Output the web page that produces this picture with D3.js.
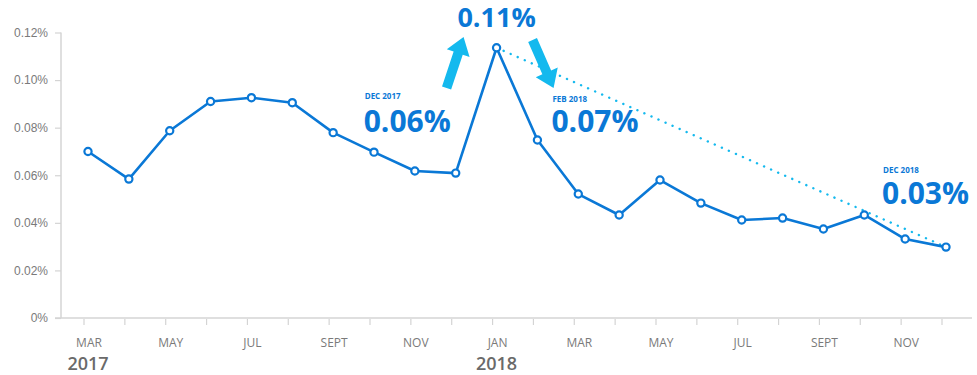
<!DOCTYPE html>
<html>
<head>
<meta charset="utf-8">
<script src="https://cdn.jsdelivr.net/npm/d3@7"></script>
<style>
	body { margin: 0; background: #fff; }
	svg { display: block; font-family: "Open Sans", "Noto Sans", sans-serif; }
</style>
</head>
<body>
<div id="chart"></div>
<script>
const WIDTH = 977;
const HEIGHT = 375;
const BLUE = "#0a78d6";
const CYAN = "#14b9ee";
const GREY = "#7a7a7a";

// Mar 2017 .. Dec 2018
const months = ["MAR17", "APR17", "MAY17", "JUN17", "JUL17", "AUG17", "SEP17", "OCT17", "NOV17", "DEC17",
	"JAN18", "FEB18", "MAR18", "APR18", "MAY18", "JUN18", "JUL18", "AUG18", "SEP18", "OCT18", "NOV18", "DEC18"];
const rates = [0.0700, 0.0584, 0.0787, 0.0910, 0.0926, 0.0905, 0.0779, 0.0697, 0.0618, 0.0609,
	0.1136, 0.0748, 0.0521, 0.0433, 0.0580, 0.0483, 0.0412, 0.0420, 0.0374, 0.0433, 0.0332, 0.0298];
const monthLabels = {MAR17: "MAR", MAY17: "MAY", JUL17: "JUL", SEP17: "SEPT", NOV17: "NOV",
	JAN18: "JAN", MAR18: "MAR", MAY18: "MAY", JUL18: "JUL", SEP18: "SEPT", NOV18: "NOV"};
const yearLabels = {MAR17: "2017", JAN18: "2018"};
const yTicks = [0, 0.02, 0.04, 0.06, 0.08, 0.10, 0.12];

const callouts = [
	{month: "DEC17", small: "DEC 2017", big: "0.06%", dx: -91, ySmall: 99, yBig: 132},
	{month: "FEB18", small: "FEB 2018", big: "0.07%", dx: 15, ySmall: 102, yBig: 132},
	{month: "DEC18", small: "DEC 2018", big: "0.03%", dx: -63, ySmall: 173, yBig: 204}
];

const data = months.map((m, i) => ({month: m, value: rates[i]}));

const x = d3.scalePoint().domain(months).range([88, 946]);
const y = d3.scaleLinear().domain([0, 0.12]).range([318, 32.5]);

const svg = d3.select("#chart").append("svg")
	.attr("width", WIDTH)
	.attr("height", HEIGHT);

// axes
const yAxis = d3.axisLeft(y)
	.tickValues(yTicks)
	.tickSize(6)
	.tickFormat((d) => d === 0 ? "0%" : d3.format(".2f")(d) + "%");
const yG = svg.append("g").attr("transform", "translate(61,0)").call(yAxis);
yG.select(".domain").attr("stroke", "#d4d4d4").attr("stroke-width", 1.5).attr("d", `M0,${y(0.12)}V${y(0)}`);
yG.selectAll(".tick line").attr("stroke", "#d4d4d4").attr("stroke-width", 1.2);
yG.selectAll(".tick text").attr("fill", GREY).attr("font-size", "12px").attr("x", -13);

const xG = svg.append("g").attr("transform", `translate(0,${y(0)})`);
xG.append("line")
	.attr("x1", 55).attr("x2", 972)
	.attr("stroke", "#d4d4d4").attr("stroke-width", 1.5);
xG.selectAll(".xtick").data(months).enter().append("line")
	.attr("class", "xtick")
	.attr("x1", (d) => x(d) - 4).attr("x2", (d) => x(d) - 4)
	.attr("y1", 1).attr("y2", 7)
	.attr("stroke", "#d4d4d4").attr("stroke-width", 1.2);
xG.selectAll(".mlabel").data(months.filter((m) => monthLabels[m])).enter().append("text")
	.attr("class", "mlabel")
	.attr("x", (d) => x(d) + 1)
	.attr("y", 29)
	.attr("text-anchor", "middle")
	.attr("fill", GREY)
	.attr("font-size", "12px")
	.text((d) => monthLabels[d]);
xG.selectAll(".ylabel").data(months.filter((m) => yearLabels[m])).enter().append("text")
	.attr("class", "ylabel")
	.attr("x", (d) => x(d))
	.attr("y", 52)
	.attr("text-anchor", "middle")
	.attr("fill", "#6a6a6a")
	.attr("font-size", "18px")
	.attr("font-weight", 600)
	.text((d) => yearLabels[d]);

// dotted trend from peak to last
const peak = data[months.indexOf("JAN18")];
const last = data[data.length - 1];
svg.append("line")
	.attr("x1", x(peak.month)).attr("y1", y(peak.value))
	.attr("x2", x(last.month)).attr("y2", y(last.value))
	.attr("stroke", CYAN)
	.attr("stroke-width", 2.4)
	.attr("stroke-linecap", "round")
	.attr("stroke-dasharray", "0.1 7.6");

// main line
const line = d3.line().x((d) => x(d.month)).y((d) => y(d.value));
svg.append("path")
	.datum(data)
	.attr("d", line)
	.attr("fill", "none")
	.attr("stroke", BLUE)
	.attr("stroke-width", 2.6)
	.attr("stroke-linejoin", "round");

svg.selectAll(".dot").data(data).enter().append("circle")
	.attr("class", "dot")
	.attr("cx", (d) => x(d.month))
	.attr("cy", (d) => y(d.value))
	.attr("r", 3.6)
	.attr("fill", "#fff")
	.attr("stroke", BLUE)
	.attr("stroke-width", 2.2);

// arrows
function arrow(x1, y1, x2, y2) {
	const len = Math.hypot(x2 - x1, y2 - y1);
	const ang = Math.atan2(y2 - y1, x2 - x1) * 180 / Math.PI;
	const sw = 4.8, hw = 12, hl = 17;
	const p = [[0, -sw], [len - hl, -sw], [len - hl, -hw], [len, 0], [len - hl, hw], [len - hl, sw], [0, sw]];
	svg.append("path")
		.attr("d", "M" + p.join("L") + "Z")
		.attr("fill", CYAN)
		.attr("transform", `translate(${x1},${y1}) rotate(${ang})`);
}
const px = x(peak.month);
arrow(px - 50, 88, px - 33, 37);
arrow(px + 36, 40, px + 57, 88);

// peak label
svg.append("text")
	.attr("x", px)
	.attr("y", 27)
	.attr("text-anchor", "middle")
	.attr("fill", BLUE)
	.attr("font-size", "27px")
	.attr("font-weight", 700)
	.text("0.11%");

// callouts
const cg = svg.selectAll(".callout").data(callouts).enter().append("g").attr("class", "callout");
cg.append("text")
	.attr("x", (d) => x(d.month) + d.dx)
	.attr("y", (d) => d.ySmall)
	.attr("fill", BLUE)
	.attr("font-size", "8px")
	.attr("font-weight", 700)
	.text((d) => d.small);
cg.append("text")
	.attr("x", (d) => x(d.month) + d.dx - 1)
	.attr("y", (d) => d.yBig)
	.attr("fill", BLUE)
	.attr("font-size", "30px")
	.attr("font-weight", 700)
	.text((d) => d.big);
</script>
</body>
</html>
